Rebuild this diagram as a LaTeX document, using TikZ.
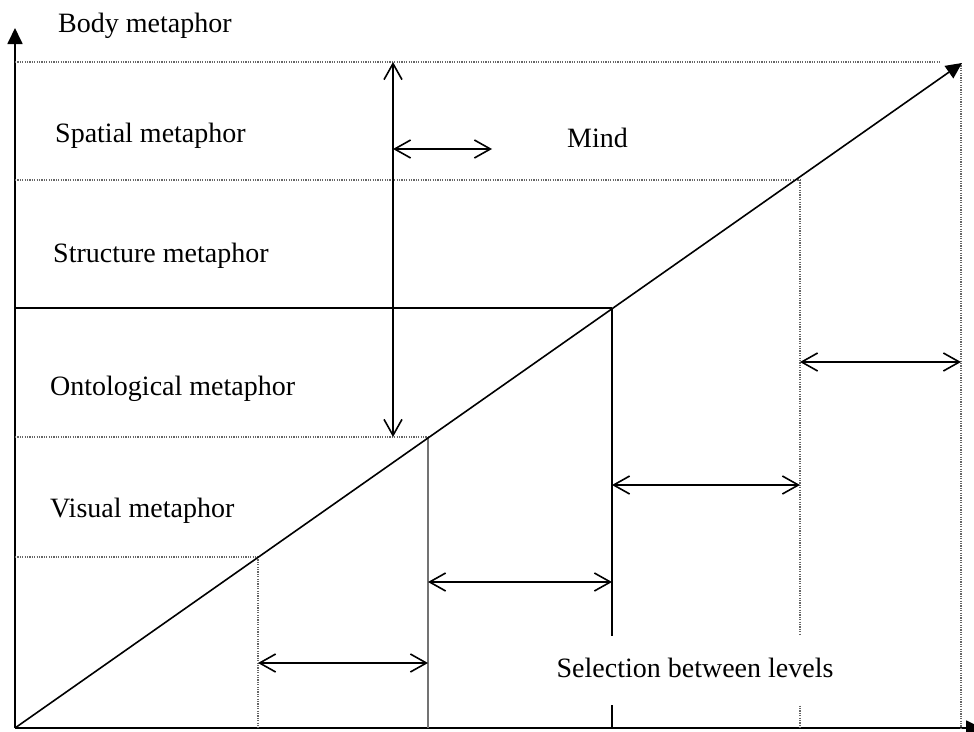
\documentclass[tikz,border=0pt]{standalone}
\usepackage{fontspec}
\setmainfont{Liberation Serif}
\usetikzlibrary{arrows.meta}

\begin{document}
\begin{tikzpicture}[x=1pt,y=-1pt,
    axis/.style = {line width=1.8pt, -{Triangle[length=16pt,width=15pt]}},
    level/.style = {line width=1.6pt},
    guide/.style = {black!60, line width=1.3pt, dash pattern=on 1.2pt off 1.2pt},
    span/.style = {line width=1.6pt,
        {Straight Barb[length=16pt,width=18pt]}-{Straight Barb[length=16pt,width=18pt]}},
    every node/.style = {font=\fontsize{28}{32}\selectfont, inner sep=0pt}
  ]
\useasboundingbox (0,0) rectangle (974,731);

% axes and corners
\coordinate (o) at (15,728);
\coordinate (ytop) at (15,28);
\coordinate (xend) at (982,728);
\coordinate (tip) at (962,63);
\coordinate (d1) at (258,557);
\coordinate (d2) at (428,437);
\coordinate (d3) at (612,308);
\coordinate (d4) at (800,180);

\draw[axis] (o) -- (ytop);
\draw[axis] (o) -- (xend);

% levels
\draw[guide] (15,62) -- (940,62);
\draw[guide] (15,180) -- (d4);
\draw[level] (15,308) -- (d3);
\draw[guide] (15,437) -- (d2);
\draw[guide] (15,557) -- (d1);

\draw[guide] (d1) -- (d1 |- o);
\draw[black!55, line width=1.1pt] (d2) -- (d2 |- o);
\draw[level] (d3) -- (d3 |- o);
\draw[guide] (d4) -- (d4 |- o);
\draw[guide] (961,63) -- (961,728);

\draw[axis, line width=1.6pt] (o) -- (tip);

% selections
\draw[span] (258,663) -- (428,663);
\draw[span] (428,582) -- (612,582);
\draw[span] (612,485) -- (800,485);
\draw[span] (800,362) -- (961,362);
\draw[span] (393,62) -- (393,437);
\draw[span] (393,149) -- (492,149);

\node (body)  [anchor=base west] at (58,32)  {Body metaphor};
\node (spat)  [anchor=base west] at (55,142) {Spatial metaphor};
\node (struc) [anchor=base west] at (53,262) {Structure metaphor};
\node (onto)  [anchor=base west] at (50,395) {Ontological metaphor};
\node (vis)   [anchor=base west] at (50,517) {Visual metaphor};
\node (mind)  [anchor=base west] at (567,147) {Mind};
\node (sel) [fill=white, text height=23pt, text depth=8pt, inner ysep=19pt]
    at (695,670) {Selection between levels};
\end{tikzpicture}
\end{document}
